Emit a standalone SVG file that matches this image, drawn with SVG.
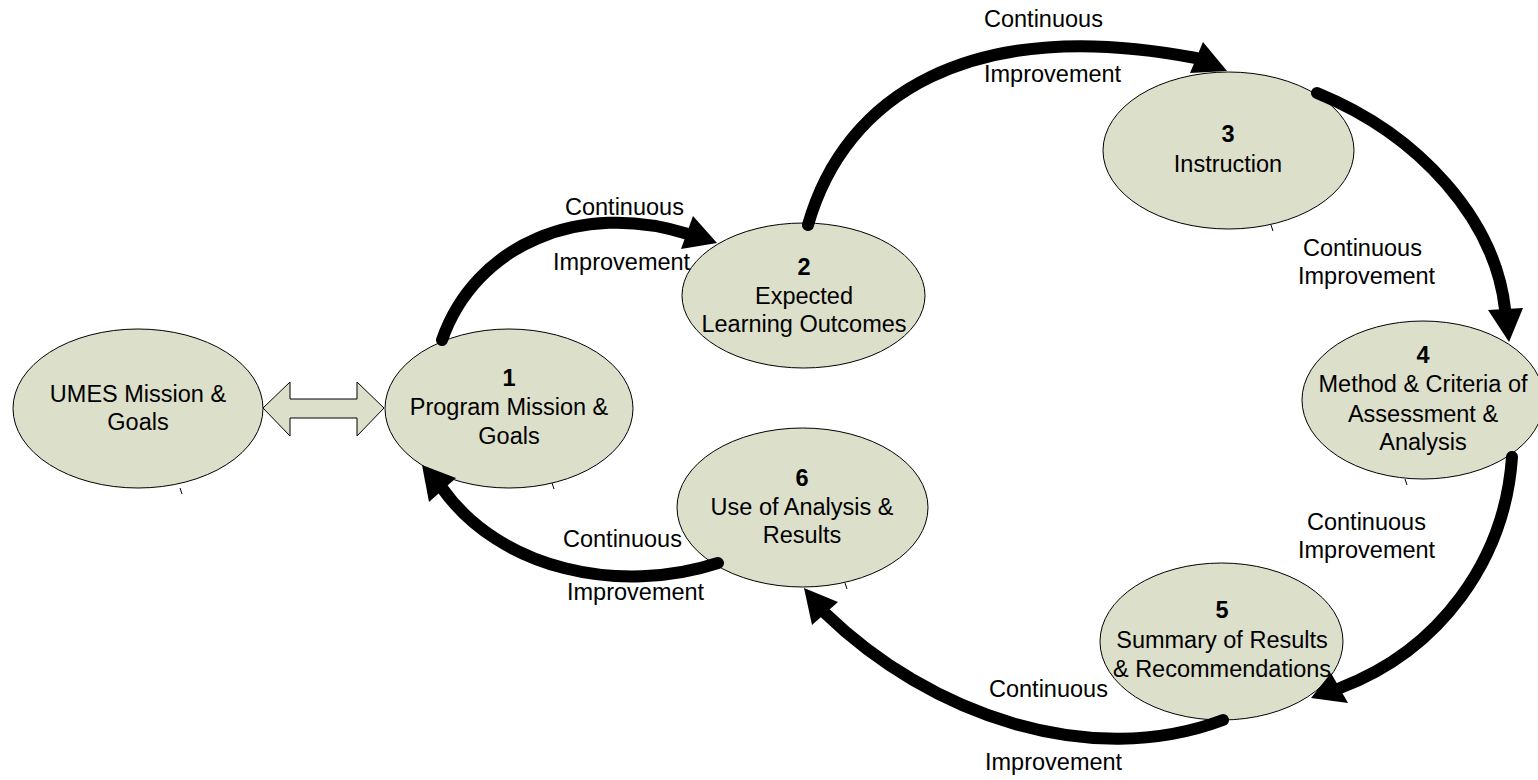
<svg xmlns="http://www.w3.org/2000/svg" width="1538" height="780" viewBox="0 0 1538 780">
<style>
.node{fill:#dcdfca;stroke:#000;stroke-width:1}
.t{font-family:"Liberation Sans",Arial,sans-serif;font-size:23.5px;fill:#000}
.c{text-anchor:middle}
.b{font-weight:bold}
.shaft{fill:none;stroke:#000;stroke-width:12;stroke-linecap:round}
.head{fill:#000;stroke:none}
.tick{stroke:#000;stroke-width:1}
</style>
<rect width="1538" height="780" fill="#fff"/>
<g id="node-umes">
<ellipse class="node" cx="138" cy="408.5" rx="125" ry="79.5"/>
<line class="tick" x1="180" y1="488" x2="182" y2="494"/>
<text class="t c" x="138" y="402">UMES Mission &amp;</text>
<text class="t c" x="138" y="430">Goals</text>
</g>
<g id="double-arrow">
<polygon class="node" points="263,408 290,382 290,399 357,399 357,382 384,408 357,436 357,418 290,418 290,436"/>
</g>
<g id="node-1">
<ellipse class="node" cx="509" cy="408.5" rx="124" ry="79.5"/>
<line class="tick" x1="552" y1="483" x2="554" y2="489"/>
<text class="t c b" x="509" y="386">1</text>
<text class="t c" x="509" y="415">Program Mission &amp;</text>
<text class="t c" x="509" y="444">Goals</text>
</g>
<g id="node-2">
<ellipse class="node" cx="803.5" cy="295.5" rx="121.5" ry="72.5"/>
<text class="t c b" x="804" y="275">2</text>
<text class="t c" x="804" y="304">Expected</text>
<text class="t c" x="804" y="332">Learning Outcomes</text>
</g>
<g id="node-3">
<ellipse class="node" cx="1228.5" cy="150.5" rx="125.5" ry="78.5"/>
<line class="tick" x1="1271" y1="225" x2="1273" y2="231"/>
<text class="t c b" x="1228" y="142">3</text>
<text class="t c" x="1228" y="172">Instruction</text>
</g>
<g id="node-4">
<ellipse class="node" cx="1423" cy="400" rx="121" ry="79"/>
<line class="tick" x1="1405" y1="479" x2="1407" y2="485"/>
<text class="t c b" x="1423" y="363">4</text>
<text class="t c" x="1423" y="392">Method &amp; Criteria of</text>
<text class="t c" x="1423" y="422">Assessment &amp;</text>
<text class="t c" x="1423" y="450">Analysis</text>
</g>
<g id="node-5">
<ellipse class="node" cx="1221.5" cy="641.5" rx="121.5" ry="78.5"/>
<text class="t c b" x="1222" y="618">5</text>
<text class="t c" x="1222" y="648">Summary of Results</text>
<text class="t c" x="1222" y="677">&amp; Recommendations</text>
</g>
<g id="node-6">
<ellipse class="node" cx="802.5" cy="507.5" rx="125.5" ry="79.5"/>
<line class="tick" x1="845" y1="583" x2="847" y2="589"/>
<text class="t c b" x="802" y="486">6</text>
<text class="t c" x="802" y="515">Use of Analysis &amp;</text>
<text class="t c" x="802" y="543">Results</text>
</g>
<g id="connectors">
<path class="shaft" d="M442,340 C475,245 580,200 688,234"/>
<polygon class="head" points="717,243 693,216 681,249"/>
<path class="shaft" d="M808,225 C845,95 970,15 1196,58"/>
<polygon class="head" points="1227,71 1203,42 1190,73"/>
<path class="shaft" d="M1317,93 C1420,135 1495,220 1505,309"/>
<polygon class="head" points="1509,342 1488,310 1523,308"/>
<path class="shaft" d="M1512,457 C1505,560 1440,650 1340,688"/>
<polygon class="head" points="1311,698 1348,703 1331,673"/>
<path class="shaft" d="M1223,720 C1090,770 930,715 825,613"/>
<polygon class="head" points="804,588 838,602 812,625"/>
<path class="shaft" d="M718,563 C620,595 500,570 442,488"/>
<polygon class="head" points="422,465 429,502 456,478"/>
</g>
<g id="connector-labels">
<text class="t" x="565" y="215">Continuous</text>
<text class="t" x="553" y="270">Improvement</text>
<text class="t" x="984" y="27">Continuous</text>
<text class="t" x="984" y="82">Improvement</text>
<text class="t" x="1303" y="256">Continuous</text>
<text class="t" x="1298" y="284">Improvement</text>
<text class="t" x="1307" y="530">Continuous</text>
<text class="t" x="1298" y="558">Improvement</text>
<text class="t" x="989" y="697">Continuous</text>
<text class="t" x="985" y="770">Improvement</text>
<text class="t" x="563" y="547">Continuous</text>
<text class="t" x="567" y="600">Improvement</text>
</g>
</svg>
